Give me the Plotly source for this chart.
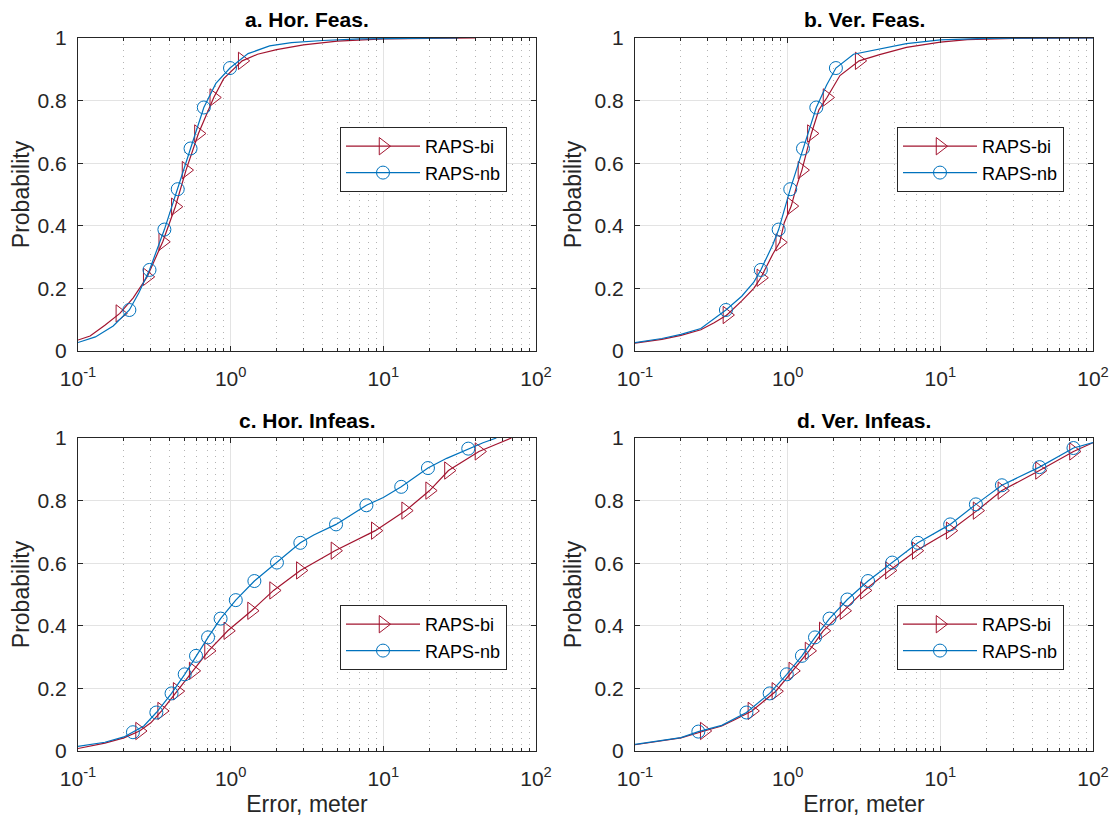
import plotly.graph_objects as go

# ---------------- data ----------------
series_names = ["RAPS-bi", "RAPS-nb"]
panel_titles = ["a. Hor. Feas.", "b. Ver. Feas.", "c. Hor. Infeas.", "d. Ver. Infeas."]
x_tick_vals = [0.1, 1, 10, 100]
x_tick_text = ["10<sup>-1</sup>", "10<sup>0</sup>", "10<sup>1</sup>", "10<sup>2</sup>"]
y_tick_vals = [0, 0.2, 0.4, 0.6, 0.8, 1]
y_tick_text = ["0", "0.2", "0.4", "0.6", "0.8", "1"]

# a. Hor. Feas.
a_bi_x = [0.1, 0.12, 0.15, 0.188, 0.23, 0.284, 0.359, 0.434, 0.51, 0.615, 0.775, 0.9, 1.19, 1.5, 2.0, 3.0, 5.0, 10, 20, 40]
a_bi_y = [0.035, 0.048, 0.082, 0.120, 0.17, 0.237, 0.349, 0.461, 0.578, 0.695, 0.81, 0.87, 0.927, 0.948, 0.963, 0.978, 0.99, 0.997, 0.999, 1.0]
a_bi_mx = [0.188, 0.284, 0.359, 0.434, 0.51, 0.615, 0.775, 1.19]
a_bi_my = [0.120, 0.237, 0.349, 0.461, 0.578, 0.695, 0.81, 0.927]
a_nb_x = [0.1, 0.13, 0.17, 0.217, 0.25, 0.294, 0.368, 0.45, 0.546, 0.667, 0.8, 0.99, 1.3, 1.8, 2.5, 4, 7, 15, 31]
a_nb_y = [0.027, 0.045, 0.08, 0.131, 0.185, 0.259, 0.388, 0.517, 0.647, 0.778, 0.855, 0.904, 0.95, 0.975, 0.985, 0.992, 0.997, 0.999, 1.0]
a_nb_mx = [0.217, 0.294, 0.368, 0.45, 0.546, 0.667, 0.99]
a_nb_my = [0.131, 0.259, 0.388, 0.517, 0.647, 0.778, 0.904]

# b. Ver. Feas.
b_bi_x = [0.1, 0.15, 0.2, 0.27, 0.33, 0.40, 0.5, 0.6, 0.667, 0.8, 0.887, 0.95, 1.055, 1.15, 1.24, 1.43, 1.6, 1.81, 2.2, 2.94, 4, 6, 10, 15, 30, 100]
b_bi_y = [0.025, 0.037, 0.05, 0.068, 0.09, 0.115, 0.16, 0.2, 0.234, 0.31, 0.347, 0.41, 0.463, 0.53, 0.578, 0.695, 0.77, 0.81, 0.88, 0.927, 0.947, 0.97, 0.987, 0.995, 0.999, 1.0]
b_bi_mx = [0.40, 0.667, 0.887, 1.055, 1.24, 1.43, 1.81, 2.94]
b_bi_my = [0.115, 0.234, 0.347, 0.463, 0.578, 0.695, 0.81, 0.927]
b_nb_x = [0.1, 0.15, 0.2, 0.27, 0.394, 0.5, 0.6, 0.667, 0.8, 0.873, 1.04, 1.26, 1.54, 1.8, 2.07, 2.7, 4, 6, 10, 20, 100]
b_nb_y = [0.027, 0.04, 0.053, 0.072, 0.131, 0.175, 0.22, 0.259, 0.34, 0.388, 0.517, 0.647, 0.778, 0.85, 0.904, 0.948, 0.965, 0.982, 0.994, 0.999, 1.0]
b_nb_mx = [0.394, 0.667, 0.873, 1.04, 1.26, 1.54, 2.07]
b_nb_my = [0.131, 0.259, 0.388, 0.517, 0.647, 0.778, 0.904]

# c. Hor. Infeas.
c_bi_x = [0.1, 0.15, 0.2, 0.253, 0.3, 0.353, 0.446, 0.568, 0.716, 0.957, 1.37, 1.91, 2.86, 4.82, 8.86, 14.0, 20.1, 26.7, 42.3, 55, 69]
c_bi_y = [0.008, 0.025, 0.042, 0.064, 0.09, 0.128, 0.191, 0.256, 0.32, 0.384, 0.448, 0.513, 0.577, 0.64, 0.704, 0.768, 0.832, 0.896, 0.957, 0.98, 1.0]
c_bi_mx = [0.253, 0.353, 0.446, 0.568, 0.716, 0.957, 1.37, 1.91, 2.86, 4.82, 8.86, 14.0, 20.1, 26.7, 42.3]
c_bi_my = [0.064, 0.128, 0.191, 0.256, 0.32, 0.384, 0.448, 0.513, 0.577, 0.64, 0.704, 0.768, 0.832, 0.896, 0.957]
c_nb_x = [0.1, 0.15, 0.2, 0.229, 0.27, 0.326, 0.41, 0.5, 0.593, 0.711, 0.859, 1.08, 1.43, 2.01, 2.86, 3.5, 4.9, 7.75, 10, 13.1, 19.6, 26, 36, 45, 55]
c_nb_y = [0.015, 0.028, 0.045, 0.06, 0.08, 0.123, 0.184, 0.245, 0.304, 0.363, 0.423, 0.482, 0.543, 0.602, 0.665, 0.69, 0.724, 0.785, 0.81, 0.844, 0.904, 0.935, 0.966, 0.985, 1.0]
c_nb_mx = [0.229, 0.326, 0.41, 0.5, 0.593, 0.711, 0.859, 1.08, 1.43, 2.01, 2.86, 4.9, 7.75, 13.1, 19.6, 36]
c_nb_my = [0.06, 0.123, 0.184, 0.245, 0.304, 0.363, 0.423, 0.482, 0.543, 0.602, 0.665, 0.724, 0.785, 0.844, 0.904, 0.966]

# d. Ver. Infeas.
d_bi_x = [0.1, 0.2, 0.284, 0.37, 0.45, 0.583, 0.837, 1.08, 1.38, 1.71, 2.34, 3.18, 4.64, 6.95, 11.6, 17.4, 25.3, 44.6, 74.5, 100]
d_bi_y = [0.02, 0.042, 0.064, 0.08, 0.1, 0.128, 0.191, 0.256, 0.32, 0.384, 0.448, 0.513, 0.577, 0.64, 0.704, 0.768, 0.832, 0.896, 0.957, 0.985]
d_bi_mx = [0.284, 0.583, 0.837, 1.08, 1.38, 1.71, 2.34, 3.18, 4.64, 6.95, 11.6, 17.4, 25.3, 44.6, 74.5]
d_bi_my = [0.064, 0.128, 0.191, 0.256, 0.32, 0.384, 0.448, 0.513, 0.577, 0.64, 0.704, 0.768, 0.832, 0.896, 0.957]
d_nb_x = [0.1, 0.2, 0.26, 0.37, 0.537, 0.762, 0.987, 1.24, 1.51, 1.88, 2.46, 3.36, 4.84, 7.13, 11.6, 17.1, 25.3, 44.6, 74.5, 100]
d_nb_y = [0.021, 0.043, 0.062, 0.082, 0.123, 0.184, 0.245, 0.304, 0.363, 0.423, 0.484, 0.543, 0.602, 0.665, 0.724, 0.788, 0.849, 0.907, 0.968, 0.985]
d_nb_mx = [0.26, 0.537, 0.762, 0.987, 1.24, 1.51, 1.88, 2.46, 3.36, 4.84, 7.13, 11.6, 17.1, 25.3, 44.6, 74.5]
d_nb_my = [0.062, 0.123, 0.184, 0.245, 0.304, 0.363, 0.423, 0.484, 0.543, 0.602, 0.665, 0.724, 0.788, 0.849, 0.907, 0.968]

panels = [
    (a_bi_x, a_bi_y, a_bi_mx, a_bi_my, a_nb_x, a_nb_y, a_nb_mx, a_nb_my),
    (b_bi_x, b_bi_y, b_bi_mx, b_bi_my, b_nb_x, b_nb_y, b_nb_mx, b_nb_my),
    (c_bi_x, c_bi_y, c_bi_mx, c_bi_my, c_nb_x, c_nb_y, c_nb_mx, c_nb_my),
    (d_bi_x, d_bi_y, d_bi_mx, d_bi_my, d_nb_x, d_nb_y, d_nb_mx, d_nb_my),
]

# ---------------- styling / layout ----------------
PAGE_OFF = 8                     # default body margin of the html page
W, H = 1117 - PAGE_OFF, 825 - PAGE_OFF
RED = "#A2142F"
BLUE = "#0072BD"
AXC = "#262626"
FONT = "Liberation Sans, Arial, Helvetica, sans-serif"

# positions in window pixels
col_px = [(78, 536), (635, 1093)]
row_px = [(38, 351), (438, 751)]
legend_px = [(340, 127), (897, 127), (340, 605), (897, 605)]


def px_x(p):
    return (p - PAGE_OFF) / W


def px_y(p):
    return 1 - (p - PAGE_OFF) / H


minor_vals = [m * 10 ** e for e in (-1, 0, 1) for m in range(2, 10)]

fig = go.Figure()

for i, (bx, by, bmx, bmy, nx, ny, nmx, nmy) in enumerate(panels):
    sfx = "" if i == 0 else str(i + 1)
    xa, ya = "x" + sfx, "y" + sfx
    leg = "legend" + sfx
    for (cx, cy, mx, my, col, sym, msz, name) in [
        (bx, by, bmx, bmy, RED, "triangle-right-open", 15, series_names[0]),
        (nx, ny, nmx, nmy, BLUE, "circle-open", 13, series_names[1]),
    ]:
        fig.add_trace(go.Scatter(x=cx, y=cy, mode="lines", xaxis=xa, yaxis=ya,
                                 line=dict(color=col, width=1.2), showlegend=False,
                                 hoverinfo="skip"))
        fig.add_trace(go.Scatter(x=mx, y=my, mode="markers", xaxis=xa, yaxis=ya,
                                 marker=dict(symbol=sym, size=msz, color=col,
                                             line=dict(color=col, width=1)),
                                 showlegend=False))
        fig.add_trace(go.Scatter(x=[None], y=[None], mode="lines+markers", xaxis=xa, yaxis=ya,
                                 name=name, legend=leg,
                                 line=dict(color=col, width=1.2),
                                 marker=dict(symbol=sym, size=msz, color=col,
                                             line=dict(color=col, width=1))))

layout = dict(
    width=W, height=H,
    margin=dict(l=0, r=0, t=0, b=0, autoexpand=False),
    paper_bgcolor="white", plot_bgcolor="white",
    font=dict(family=FONT, size=21, color=AXC),
    annotations=[],
)

for i in range(4):
    sfx = "" if i == 0 else str(i + 1)
    c, r = i % 2, i // 2
    x0, x1 = col_px[c]
    y0, y1 = row_px[r]
    layout["xaxis" + sfx] = dict(
        type="log", range=[-1, 2], domain=[px_x(x0), px_x(x1)], anchor="y" + sfx,
        automargin=False,
        tickvals=x_tick_vals, ticktext=x_tick_text,
        ticks="inside", ticklen=5, tickcolor=AXC, tickwidth=1,
        showline=True, linecolor=AXC, linewidth=1, mirror="ticks",
        showgrid=True, gridcolor="#e3e3e3", gridwidth=1,
        minor=dict(tickvals=minor_vals, ticks="inside", ticklen=3, tickcolor=AXC,
                   showgrid=True, gridcolor="#b4b4b4", griddash="1px,5px", gridwidth=1),
        tickfont=dict(size=21, color=AXC), zeroline=False, ticklabelstandoff=9,
        title=dict(text="Error, meter" if r == 1 else "", font=dict(size=23, color=AXC), standoff=6),
    )
    layout["yaxis" + sfx] = dict(
        range=[0, 1], domain=[px_y(y1), px_y(y0)], anchor="x" + sfx,
        automargin=False,
        tickvals=y_tick_vals, ticktext=y_tick_text,
        ticks="inside", ticklen=5, tickcolor=AXC, tickwidth=1,
        showline=True, linecolor=AXC, linewidth=1, mirror="ticks",
        showgrid=True, gridcolor="#e3e3e3", gridwidth=1, zeroline=False,
        tickfont=dict(size=21, color=AXC), ticklabelstandoff=6,
        title=dict(text="Probability", font=dict(size=23, color=AXC), standoff=6),
    )
    lx, ly = legend_px[i]
    layout["legend" + sfx] = dict(
        x=px_x(lx), y=px_y(ly), xanchor="left", yanchor="top",
        bgcolor="white", bordercolor=AXC, borderwidth=1,
        font=dict(size=18, color="black", family=FONT), itemwidth=74,
        tracegroupgap=0,
    )
    layout["annotations"].append(dict(
        text="<b>" + panel_titles[i] + "</b>", xref="paper", yref="paper",
        x=px_x((x0 + x1) / 2), y=px_y(y0 - 18), xanchor="center", yanchor="middle",
        showarrow=False, font=dict(size=21, color="black", family=FONT),
    ))

fig.update_layout(**layout)
fig.write_html("out.html")
